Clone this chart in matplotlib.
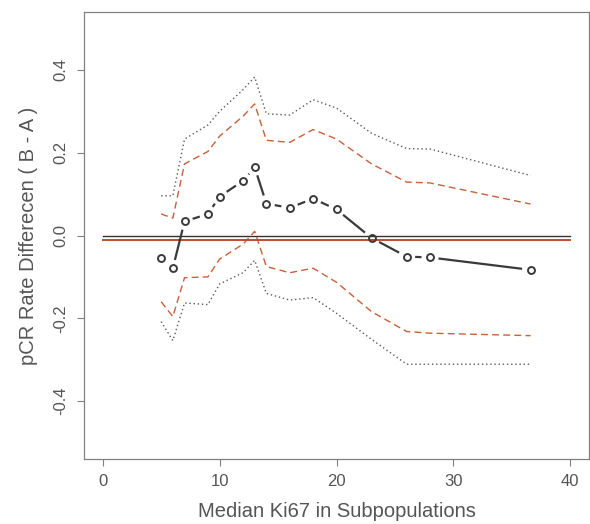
import numpy as np
import matplotlib
matplotlib.use("Agg")
import matplotlib.pyplot as plt

plt.rcParams['font.family'] = ['Liberation Sans', 'DejaVu Sans']

ki67 = [5, 6, 7, 9, 10, 12, 13, 14, 16, 18, 20, 23, 26, 28, 36.6]
diff = [-0.055, -0.079, 0.034, 0.052, 0.094, 0.132, 0.165, 0.077, 0.067, 0.089, 0.063, -0.006, -0.051, -0.053, -0.083]
upper_dash = [0.052, 0.042, 0.173, 0.203, 0.240, 0.288, 0.318, 0.230, 0.225, 0.256, 0.233, 0.173, 0.129, 0.127, 0.076]
lower_dash = [-0.160, -0.196, -0.102, -0.100, -0.057, -0.021, 0.010, -0.075, -0.090, -0.079, -0.113, -0.184, -0.232, -0.236, -0.242]
upper_dot = [0.096, 0.096, 0.233, 0.267, 0.300, 0.352, 0.383, 0.294, 0.291, 0.328, 0.308, 0.247, 0.210, 0.209, 0.145]
lower_dot = [-0.208, -0.254, -0.163, -0.167, -0.117, -0.090, -0.060, -0.140, -0.156, -0.150, -0.188, -0.251, -0.311, -0.311, -0.311]
ref_black = 0.0
ref_red = -0.012
ref_span = [0, 40]
xticks = [0, 10, 20, 30, 40]
yticks = [-0.4, -0.2, 0.0, 0.2, 0.4]
ytick_labels = ["-0.4", "-0.2", "0.0", "0.2", "0.4"]

W, H = 590, 524
fig = plt.figure(figsize=(W/100, H/100), dpi=100)
ax = fig.add_axes([84/W, 1-459/H, (589-84)/W, (459-12)/H])
ax.set_xlim(-1.6, 41.6)
ax.set_ylim(-0.54, 0.54)

frame_col = '#808080'
for s in ax.spines.values():
    s.set_color(frame_col)
    s.set_linewidth(0.9)

dash_col = '#c8603a'
dot_col = '#5a5a5a'
ax.plot(ki67, upper_dot, color=dot_col, lw=1.0, ls=(0, (1, 2)))
ax.plot(ki67, lower_dot, color=dot_col, lw=1.0, ls=(0, (1, 2)))
ax.plot(ki67, upper_dash, color=dash_col, lw=1.0, ls=(0, (5, 3)))
ax.plot(ki67, lower_dash, color=dash_col, lw=1.0, ls=(0, (5, 3)))

ax.plot(ref_span, [ref_black]*2, color='#333333', lw=1.0)
ax.plot(ref_span, [ref_red]*2, color='#c04a30', lw=1.4)

# type="b" style: segments with gaps around points
fig.canvas.draw()
pts = ax.transData.transform(np.column_stack([ki67, diff]))
gap = 8.5
inv = ax.transData.inverted()
for i in range(len(pts)-1):
    p0, p1 = pts[i], pts[i+1]
    d = p1 - p0
    L = np.hypot(*d)
    if L > 2*gap:
        u = d / L
        a = inv.transform(p0 + u*gap)
        b = inv.transform(p1 - u*gap)
        ax.plot([a[0], b[0]], [a[1], b[1]], color='#3a3a3a', lw=1.6, solid_capstyle='butt')
ax.plot(ki67, diff, ls='none', marker='o', ms=5.0, mfc='none', mec='#3a3a3a', mew=1.4)

ax.set_xticks(xticks)
ax.set_yticks(yticks)
ax.set_yticklabels(ytick_labels, rotation=90, va='center')
ax.tick_params(direction='out', length=5, width=0.8, color=frame_col, labelcolor='#555555', labelsize=12, pad=6)
ax.set_xlabel("Median Ki67 in Subpopulations", fontsize=14.5, color='#555555', labelpad=9)
ax.set_ylabel("pCR Rate Differecen ( B - A )", fontsize=14.5, color='#555555', labelpad=11)

fig.savefig("out.png", dpi=100)
